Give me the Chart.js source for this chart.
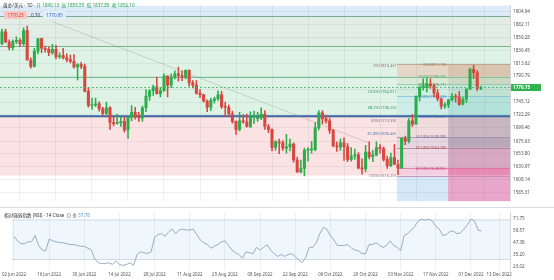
<!DOCTYPE html>
<html><head><meta charset="utf-8">
<script src="https://cdn.jsdelivr.net/npm/chart.js@4.4.0/dist/chart.umd.min.js"></script>
<style>
html,body{margin:0;padding:0;background:#fff;width:554px;height:280px;overflow:hidden;font-family:"Noto Sans","Noto Sans CJK SC",sans-serif;}
#wrap{position:relative;width:554px;height:280px;}
#main{position:absolute;left:0;top:0;}
#rsi{position:absolute;left:0;top:207px;}
.t{position:absolute;white-space:nowrap;font-size:4.6px;line-height:6px;}
</style></head><body>
<div id="wrap">
<canvas id="main" width="554" height="207"></canvas>
<canvas id="rsi" width="554" height="73"></canvas>
<div class="t" style="left:3px;top:2px;color:#333;">黄金/美元 · 1D · <span style="color:#26a04a">开 1840.13 &nbsp;高 1855.55 &nbsp;低 1837.85 &nbsp;收 1852.10</span></div>
<div class="t" style="left:4px;top:11px;background:#f7c9c6;color:#d2443c;padding:1px 3px;border-radius:1px;">1770.25</div>
<div class="t" style="left:31px;top:12px;color:#444;">0.70</div>
<div class="t" style="left:43px;top:11px;background:#e3eefb;color:#3a70c0;padding:1px 3px;border-radius:1px;">1770.95</div>
<div class="t" style="left:4px;top:212px;color:#333;">相对强弱指数 (RSI) · 14 Close &nbsp;⊙ ⊕ <span style="color:#5b9bd5">57.78</span></div>
</div>
<script>
// ---- data ----
const tickIdx = [0,10,20,30,40,50,60,70,80,90,100,110,120,130,138];
const tickLabels = ['02 Jun 2022','16 Jun 2022','30 Jun 2022','14 Jul 2022','28 Jul 2022','11 Aug 2022','25 Aug 2022','08 Sep 2022','22 Sep 2022','06 Oct 2022','20 Oct 2022','03 Nov 2022','17 Nov 2022','01 Dec 2022','13 Dec 2022'];
const priceTicks = [1904.94,1882.11,1859.28,1836.45,1813.62,1790.79,1767.96,1745.12,1722.29,1699.46,1675.63,1653.80,1630.97,1608.14,1585.31];
const rsiTicks = [71.75,59.57,47.38,35.20,23.02];
const opens  = [1848,1869,1851,1841,1852,1854,1848,1871,1819,1808,1835,1857,1840,1838,1832,1838,1825,1827,1823,1820,1817,1807,1811,1808,1764,1739,1740,1742,1733,1725,1735,1709,1707,1709,1711,1696,1718,1727,1719,1717,1735,1755,1765,1772,1760,1765,1791,1775,1789,1795,1792,1789,1801,1779,1775,1761,1758,1747,1736,1748,1751,1758,1737,1736,1724,1711,1697,1712,1710,1702,1718,1716,1717,1724,1702,1697,1665,1675,1673,1664,1666,1671,1643,1622,1628,1660,1661,1661,1700,1726,1716,1712,1695,1668,1666,1673,1666,1644,1650,1652,1629,1627,1657,1649,1652,1665,1663,1644,1633,1647,1635,1629,1681,1676,1712,1706,1755,1771,1771,1777,1774,1761,1751,1738,1740,1749,1755,1754,1741,1750,1768,1803,1797,1769];
const highs  = [1874,1874,1855,1855,1860,1857,1876,1879,1823,1840,1857,1858,1844,1842,1847,1845,1832,1840,1830,1828,1829,1813,1815,1812,1770,1752,1752,1746,1736,1745,1737,1721,1724,1719,1719,1719,1739,1736,1727,1738,1767,1767,1775,1789,1770,1795,1792,1795,1800,1807,1800,1802,1802,1783,1783,1767,1759,1749,1752,1754,1765,1764,1745,1740,1729,1712,1727,1723,1724,1728,1729,1727,1735,1730,1706,1698,1677,1680,1677,1688,1680,1673,1648,1643,1664,1665,1676,1709,1730,1730,1722,1717,1697,1675,1680,1682,1672,1665,1662,1656,1645,1669,1675,1660,1675,1670,1666,1650,1655,1670,1643,1682,1685,1716,1723,1756,1773,1786,1787,1786,1777,1767,1752,1744,1750,1760,1759,1764,1754,1769,1805,1810,1800,1773];
const lows   = [1846,1850,1837,1837,1848,1843,1845,1821,1805,1807,1830,1832,1833,1827,1829,1821,1822,1821,1816,1814,1805,1784,1804,1763,1736,1732,1737,1729,1722,1723,1697,1703,1706,1702,1692,1681,1712,1715,1711,1711,1728,1748,1757,1759,1754,1764,1754,1771,1786,1782,1783,1786,1773,1770,1759,1753,1745,1728,1730,1743,1748,1734,1720,1720,1708,1688,1694,1708,1701,1700,1707,1711,1714,1697,1691,1659,1660,1654,1660,1655,1659,1639,1621,1620,1615,1641,1655,1659,1696,1707,1708,1690,1666,1658,1660,1642,1640,1641,1644,1627,1618,1622,1645,1640,1650,1655,1641,1628,1631,1635,1617,1628,1670,1673,1702,1706,1747,1766,1763,1769,1754,1747,1733,1734,1735,1747,1745,1739,1740,1744,1768,1787,1765,1767];
const closes = [1869,1851,1841,1852,1854,1848,1871,1819,1808,1835,1857,1840,1838,1832,1838,1825,1827,1823,1820,1817,1807,1811,1808,1764,1739,1740,1742,1733,1725,1735,1709,1707,1709,1711,1696,1718,1727,1719,1717,1735,1755,1765,1772,1760,1765,1791,1775,1789,1795,1792,1789,1801,1779,1775,1761,1758,1747,1736,1748,1751,1758,1737,1736,1724,1711,1697,1712,1710,1702,1718,1720,1717,1724,1702,1697,1665,1675,1673,1664,1666,1671,1643,1622,1628,1660,1661,1661,1700,1726,1716,1712,1695,1668,1666,1673,1666,1644,1650,1652,1629,1627,1657,1649,1652,1665,1663,1644,1633,1647,1635,1629,1681,1676,1712,1706,1755,1771,1771,1777,1774,1761,1751,1738,1740,1749,1755,1754,1741,1750,1768,1803,1797,1769,1770.75];
const rsiValues = [53.4,48.8,46,46,47.9,47.9,54.3,44.2,39.6,38.7,50.6,48.8,47.9,47,47,46,45.1,45.1,44.2,43.3,43.3,41.4,39.6,30.4,26.7,25.8,25.8,26.7,24.9,28.6,24.9,24,24.9,26.7,24,35,37.7,36.8,35.9,37.7,52.5,55.2,56.1,53.4,58,60.7,56.1,59.8,60.7,59.8,59.8,60.7,55.2,49.7,47,45.1,41.4,43.3,45.1,47.9,48.8,44.2,39.6,36.8,35,31.3,37.7,36.8,35.9,42.3,39.6,42.3,45.1,39.6,35.9,33.1,35,33.1,35,35.9,33.1,29.5,26.7,32.2,42.3,42.3,47,56.1,62.6,60.7,54.3,49.7,44.2,44.2,44.2,45.1,41.4,39.6,38.7,35.9,35.9,45.1,45.1,47,44.2,42.3,44.2,48.8,44.2,42.3,38.7,54.3,56.1,59.8,63.5,69,70.8,69.9,70.8,69,63.5,60.7,54.3,55.2,58,58.9,56.1,57,60.7,65.3,70.8,69,59.8,58.9];
const currentPrice = 1770.75;
// background bands (price boundaries) and colours
const bgLevels = [1914.93,1896.6,1843.3,1720.1,1615.2,1570.2];
const bgColors = ['#dcebf7','#e2ede6','#def3e6','#fbe2e3','#ffffff'];
// full-width horizontal lines
const hLines = [1896.6,1843.3,1790.0];
const hLineColors = ['#79aaa0','#72b68c','#74c08f'];
const blueLine = 1720.1;
// main retracement labels
const retLevels = [1810.45,1764.61,1736.25,1713.33,1690.40,1616.20];
const retNames = ['0%','23.6%','38.2%','50%','61.8%','100%'];
const retColors = ['#a06a5a','#3a9a5a','#2f9a6a','#5a7aa0','#4a80b0','#808080'];
// extension box levels
const boxLevels = [1811.7,1790.0,1776.7,1755.1,1720.1,1683.9,1664.4,1628.9,1615.2,1570.2];
const boxNames = ['0%(1811.73)','23.6%(1790.05)','38.2%(1776.71)','61.8%(1755.05)','100%(1720.05)','161.8%(1683.88)','261.8%(1664.38)','361.8%(1628.85)'];
const boxLabelColors = ['#a0705a','#4aa860','#4aa860','#3d8fd0','#3d6fb0','#7a6a90','#c0504d','#d0407a'];
const boxLineColors = ['#b89a80','#8fc49a','#8fc4a8','#7cc0d8','#3b6db0','#9a8aa8','#b07a98','#e070a0','#c08aa8'];
const boxAColors = ['#e4d7c7','#d9e9d6','#d2ede2','#cdeee8','#f0dcdc','#e6d6e2','#efd9e4','#f4cfe0','#d4e8f7'];
const boxBColors = ['#d9c5b1','#cdd8c2','#c0e2d4','#b2e2da','#c9b7bf','#b9a8bc','#d6a8c1','#e88ab6','#e8a6cb'];
const boxAStart = 109.7, boxBStart = 123.9;
const trend = [{x:14,y:1886.8},{x:102,y:1673}];

const UP='#2aae4c', DN='#d7463f';
const candleColors = closes.map((c,i)=> c>=opens[i]?UP:DN);
const bodies = closes.map((c,i)=>({x:i,y:[opens[i],c]}));
const wicks = closes.map((c,i)=>({x:i,y:[lows[i],highs[i]]}));
const XMIN=-0.55, XMAX=141.1;

const mainPlugin = {
  id:'mainDeco',
  beforeDraw(chart){
    const {ctx,chartArea:a,scales:{x,y}} = chart;
    ctx.save();
    for(let i=0;i<bgColors.length;i++){
      const t=y.getPixelForValue(bgLevels[i]), b=y.getPixelForValue(bgLevels[i+1]);
      ctx.fillStyle=bgColors[i]; ctx.fillRect(a.left,t,a.right-a.left,b-t);
    }
    const xa=x.getPixelForValue(boxAStart), xb=x.getPixelForValue(boxBStart);
    for(let i=0;i<boxAColors.length;i++){
      const t=y.getPixelForValue(boxLevels[i]), b=y.getPixelForValue(boxLevels[i+1]);
      ctx.fillStyle=boxAColors[i]; ctx.fillRect(xa,t,xb-xa,b-t);
      ctx.fillStyle=boxBColors[i]; ctx.fillRect(xb,t,a.right-xb,b-t);
    }
    ctx.restore();
  },
  beforeDatasetsDraw(chart){
    const {ctx,chartArea:a,scales:{x,y}} = chart;
    ctx.save();
    hLines.forEach((v,i)=>{const p=Math.round(y.getPixelForValue(v))+0.5;ctx.strokeStyle=hLineColors[i];ctx.lineWidth=1;ctx.beginPath();ctx.moveTo(a.left,p);ctx.lineTo(a.right,p);ctx.stroke();});
    const xa=x.getPixelForValue(boxAStart);
    boxLevels.slice(0,9).forEach((v,i)=>{const p=Math.round(y.getPixelForValue(v))+0.5;ctx.strokeStyle=boxLineColors[i];ctx.lineWidth=0.8;ctx.beginPath();ctx.moveTo(xa,p);ctx.lineTo(a.right,p);ctx.stroke();});
    const bp=y.getPixelForValue(blueLine);
    ctx.strokeStyle='#3a66a8';ctx.lineWidth=1.8;ctx.beginPath();ctx.moveTo(a.left,bp);ctx.lineTo(a.right,bp);ctx.stroke();
    ctx.font='4px "Noto Sans", sans-serif';ctx.textBaseline='bottom';ctx.textAlign='right';
    retLevels.forEach((v,i)=>{ctx.fillStyle=retColors[i];ctx.fillText(retNames[i]+'('+v.toFixed(2)+')',xa-1,y.getPixelForValue(v)+2.5);});
    const xb=x.getPixelForValue(boxBStart);
    boxNames.forEach((s,i)=>{ctx.fillStyle=boxLabelColors[i];ctx.fillText(s,xb-2,y.getPixelForValue(boxLevels[i])+2.5);});
    ctx.restore();
  },
  afterDraw(chart){
    const {ctx,chartArea:a,scales:{y}} = chart;
    const p=y.getPixelForValue(currentPrice);
    ctx.save();
    ctx.strokeStyle='#3fae5c';ctx.lineWidth=0.8;ctx.setLineDash([2,2]);
    ctx.beginPath();ctx.moveTo(a.left,p);ctx.lineTo(a.right,p);ctx.stroke();
    ctx.setLineDash([]);
    ctx.fillStyle='#2fb34f';ctx.fillRect(a.right+1,p-3.5,30,7);
    ctx.fillStyle='#fff';ctx.font='bold 4.6px "Noto Sans", sans-serif';ctx.textAlign='left';ctx.textBaseline='middle';
    ctx.fillText(currentPrice.toFixed(2),a.right+3,p+0.3);
    ctx.restore();
  }
};

new Chart(document.getElementById('main'),{
  type:'bar',
  data:{datasets:[
    {type:'line',data:trend,borderColor:'rgba(140,140,140,0.4)',borderWidth:0.8,pointRadius:0,order:3},
    {data:wicks,backgroundColor:candleColors,barThickness:0.9,grouped:false,order:2},
    {data:bodies,backgroundColor:candleColors,barThickness:2.4,minBarLength:1,grouped:false,order:1}
  ]},
  options:{
    responsive:false,animation:false,
    layout:{padding:0,autoPadding:false},
    plugins:{legend:{display:false},tooltip:{enabled:false}},
    scales:{
      x:{type:'linear',min:XMIN,max:XMAX,offset:false,
        afterBuildTicks:s=>{s.ticks=tickIdx.map(v=>({value:v}));},
        ticks:{display:false},grid:{color:'rgba(120,130,140,0.12)',drawTicks:false},border:{display:false},
        afterFit:s=>{s.height=0;}},
      y:{type:'linear',position:'right',min:1570.2,max:1914.93,
        afterBuildTicks:s=>{s.ticks=priceTicks.map(v=>({value:v}));},
        ticks:{callback:v=>v.toFixed(2),font:{size:4.6,family:'"Noto Sans", sans-serif'},color:'#555',padding:3},
        grid:{color:'rgba(120,130,140,0.12)',drawTicks:false},border:{display:true,color:'#d8d8d8'},
        afterFit:s=>{s.width=44;}}
    }
  },
  plugins:[mainPlugin]
});

const rsiPlugin = {
  id:'rsiDeco',
  beforeDraw(chart){
    const {ctx,chartArea:a,scales:{y}} = chart;
    const t=y.getPixelForValue(70), b=y.getPixelForValue(30);
    ctx.save();
    ctx.fillStyle='#eff6fc';ctx.fillRect(a.left,t,a.right-a.left,b-t);
    ctx.strokeStyle='#c5d3df';ctx.lineWidth=0.8;
    [t,b].forEach(p=>{ctx.beginPath();ctx.moveTo(a.left,p);ctx.lineTo(a.right,p);ctx.stroke();});
    ctx.strokeStyle='#cfd6dd';ctx.beginPath();ctx.moveTo(0,0.5);ctx.lineTo(554,0.5);ctx.stroke();
    ctx.restore();
  }
};

new Chart(document.getElementById('rsi'),{
  type:'line',
  data:{datasets:[{data:rsiValues.map((v,i)=>({x:i,y:v})),borderColor:'#8ea6bb',borderWidth:0.9,pointRadius:0,tension:0}]},
  options:{
    responsive:false,animation:false,
    layout:{padding:0,autoPadding:false},
    plugins:{legend:{display:false},tooltip:{enabled:false}},
    scales:{
      x:{type:'linear',min:XMIN,max:XMAX,offset:false,
        afterBuildTicks:s=>{s.ticks=tickIdx.map(v=>({value:v}));},
        ticks:{callback:(v)=>{const k=tickIdx.indexOf(v);return k>=0?tickLabels[k]:'';},font:{size:4.4,family:'"Noto Sans", sans-serif'},color:'#555',maxRotation:0,minRotation:0,autoSkip:false,align:'center',padding:2},
        grid:{color:'rgba(120,130,140,0.12)',drawTicks:false},border:{display:false},
        afterFit:s=>{s.height=10;}},
      y:{type:'linear',position:'right',min:19.34,max:77.27,
        afterBuildTicks:s=>{s.ticks=rsiTicks.map(v=>({value:v}));},
        ticks:{callback:v=>v.toFixed(2),font:{size:4.6,family:'"Noto Sans", sans-serif'},color:'#555',padding:3},
        grid:{display:false,drawTicks:false},border:{display:true,color:'#d8d8d8'},
        afterFit:s=>{s.width=44;}}
    }
  },
  plugins:[rsiPlugin]
});
</script>
</body></html>
